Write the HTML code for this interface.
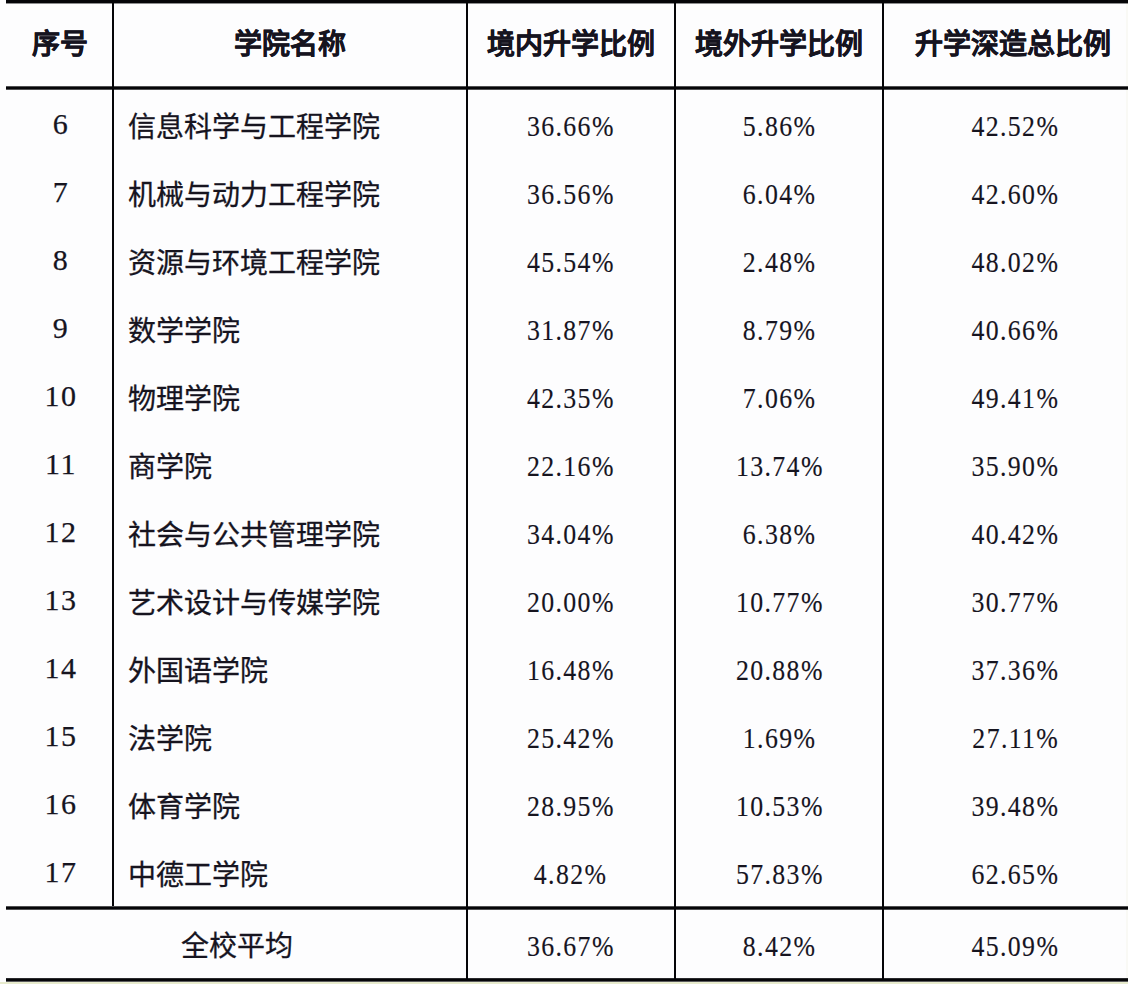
<!DOCTYPE html>
<html lang="zh-CN"><head><meta charset="utf-8"><title>升学深造比例</title><style>
html,body{margin:0;padding:0}
body{width:1128px;height:984px;overflow:hidden;background:#fdfdfe;position:relative;font-family:"Liberation Serif",serif;color:#16141f}
.ln{position:absolute;background:#050508}
.c{position:absolute;display:flex;align-items:center;justify-content:center;white-space:nowrap;font-size:28px;line-height:1}
.c span{display:block}
.h{font-weight:bold}
.h span{-webkit-text-stroke:0.3px #16141f}
.nm{justify-content:flex-start;padding-left:15px;box-sizing:border-box}
.nm span{transform:translateY(4px);-webkit-text-stroke:0.3px #16141f}
.h span{transform:translate(0px,0px)}
.tot span{transform:translateY(3px);-webkit-text-stroke:0.3px #16141f}
.n span{font-size:30px;letter-spacing:1.6px;transform:translate(0.8px,2px) scaleX(0.86);-webkit-text-stroke:0.15px #16141f}
.n3 span{transform:translate(-0.2px,2px) scaleX(0.86)}
.n5 span{transform:translate(2.3px,2px) scaleX(0.86)}
.seq span{font-size:30px;letter-spacing:1.5px;transform:translateX(1.5px);-webkit-text-stroke:0.25px #16141f}
.edge{position:absolute;left:1126px;top:0;width:2px;height:982px;background:#f6f6ee;opacity:.6}
.band{position:absolute;left:0;top:982px;width:1128px;height:2px;background:#e7ebcd}
</style></head><body>
<div class="edge"></div>
<div class="ln" style="left:6px;top:0px;width:1122px;height:1px;opacity:1"></div>
<div class="ln" style="left:6px;top:1px;width:1122px;height:1px;opacity:1"></div>
<div class="ln" style="left:6px;top:2px;width:1122px;height:1px;opacity:1"></div>
<div class="ln" style="left:6px;top:3px;width:1122px;height:1px;opacity:0.45"></div>
<div class="ln" style="left:6px;top:86px;width:1122px;height:1px;opacity:0.7"></div>
<div class="ln" style="left:6px;top:87px;width:1122px;height:1px;opacity:1"></div>
<div class="ln" style="left:6px;top:88px;width:1122px;height:1px;opacity:1"></div>
<div class="ln" style="left:6px;top:89px;width:1122px;height:1px;opacity:0.7"></div>
<div class="ln" style="left:6px;top:906px;width:1122px;height:1px;opacity:0.7"></div>
<div class="ln" style="left:6px;top:907px;width:1122px;height:1px;opacity:1"></div>
<div class="ln" style="left:6px;top:908px;width:1122px;height:1px;opacity:1"></div>
<div class="ln" style="left:6px;top:909px;width:1122px;height:1px;opacity:0.7"></div>
<div class="ln" style="left:6px;top:978px;width:1122px;height:1px;opacity:0.85"></div>
<div class="ln" style="left:6px;top:979px;width:1122px;height:1px;opacity:1"></div>
<div class="ln" style="left:6px;top:980px;width:1122px;height:1px;opacity:1"></div>
<div class="ln" style="left:6px;top:981px;width:1122px;height:1px;opacity:0.65"></div>
<div class="ln" style="left:112px;top:0;width:2px;height:906px"></div>
<div class="ln" style="left:466px;top:0;width:2px;height:979px"></div>
<div class="ln" style="left:674px;top:0;width:2px;height:979px"></div>
<div class="ln" style="left:882px;top:0;width:2px;height:979px"></div>
<div class="c h" style="left:6px;width:107px;top:3px;height:83px"><span>序号</span></div>
<div class="c h" style="left:113px;width:354px;top:3px;height:83px"><span>学院名称</span></div>
<div class="c h" style="left:467px;width:208px;top:3px;height:83px"><span>境内升学比例</span></div>
<div class="c h" style="left:675px;width:208px;top:3px;height:83px"><span>境外升学比例</span></div>
<div class="c h" style="left:883px;width:260px;top:3px;height:83px"><span>升学深造总比例</span></div>
<div class="c seq" style="left:6px;width:107px;top:90px;height:68px"><span>6</span></div>
<div class="c nm" style="left:113px;width:354px;top:90px;height:68px"><span>信息科学与工程学院</span></div>
<div class="c n n3" style="left:467px;width:208px;top:90px;height:68px"><span>36.66%</span></div>
<div class="c n" style="left:675px;width:208px;top:90px;height:68px"><span>5.86%</span></div>
<div class="c n n5" style="left:883px;width:260px;top:90px;height:68px"><span>42.52%</span></div>
<div class="c seq" style="left:6px;width:107px;top:158px;height:68px"><span>7</span></div>
<div class="c nm" style="left:113px;width:354px;top:158px;height:68px"><span>机械与动力工程学院</span></div>
<div class="c n n3" style="left:467px;width:208px;top:158px;height:68px"><span>36.56%</span></div>
<div class="c n" style="left:675px;width:208px;top:158px;height:68px"><span>6.04%</span></div>
<div class="c n n5" style="left:883px;width:260px;top:158px;height:68px"><span>42.60%</span></div>
<div class="c seq" style="left:6px;width:107px;top:226px;height:68px"><span>8</span></div>
<div class="c nm" style="left:113px;width:354px;top:226px;height:68px"><span>资源与环境工程学院</span></div>
<div class="c n n3" style="left:467px;width:208px;top:226px;height:68px"><span>45.54%</span></div>
<div class="c n" style="left:675px;width:208px;top:226px;height:68px"><span>2.48%</span></div>
<div class="c n n5" style="left:883px;width:260px;top:226px;height:68px"><span>48.02%</span></div>
<div class="c seq" style="left:6px;width:107px;top:294px;height:68px"><span>9</span></div>
<div class="c nm" style="left:113px;width:354px;top:294px;height:68px"><span>数学学院</span></div>
<div class="c n n3" style="left:467px;width:208px;top:294px;height:68px"><span>31.87%</span></div>
<div class="c n" style="left:675px;width:208px;top:294px;height:68px"><span>8.79%</span></div>
<div class="c n n5" style="left:883px;width:260px;top:294px;height:68px"><span>40.66%</span></div>
<div class="c seq" style="left:6px;width:107px;top:362px;height:68px"><span>10</span></div>
<div class="c nm" style="left:113px;width:354px;top:362px;height:68px"><span>物理学院</span></div>
<div class="c n n3" style="left:467px;width:208px;top:362px;height:68px"><span>42.35%</span></div>
<div class="c n" style="left:675px;width:208px;top:362px;height:68px"><span>7.06%</span></div>
<div class="c n n5" style="left:883px;width:260px;top:362px;height:68px"><span>49.41%</span></div>
<div class="c seq" style="left:6px;width:107px;top:430px;height:68px"><span>11</span></div>
<div class="c nm" style="left:113px;width:354px;top:430px;height:68px"><span>商学院</span></div>
<div class="c n n3" style="left:467px;width:208px;top:430px;height:68px"><span>22.16%</span></div>
<div class="c n" style="left:675px;width:208px;top:430px;height:68px"><span>13.74%</span></div>
<div class="c n n5" style="left:883px;width:260px;top:430px;height:68px"><span>35.90%</span></div>
<div class="c seq" style="left:6px;width:107px;top:498px;height:68px"><span>12</span></div>
<div class="c nm" style="left:113px;width:354px;top:498px;height:68px"><span>社会与公共管理学院</span></div>
<div class="c n n3" style="left:467px;width:208px;top:498px;height:68px"><span>34.04%</span></div>
<div class="c n" style="left:675px;width:208px;top:498px;height:68px"><span>6.38%</span></div>
<div class="c n n5" style="left:883px;width:260px;top:498px;height:68px"><span>40.42%</span></div>
<div class="c seq" style="left:6px;width:107px;top:566px;height:68px"><span>13</span></div>
<div class="c nm" style="left:113px;width:354px;top:566px;height:68px"><span>艺术设计与传媒学院</span></div>
<div class="c n n3" style="left:467px;width:208px;top:566px;height:68px"><span>20.00%</span></div>
<div class="c n" style="left:675px;width:208px;top:566px;height:68px"><span>10.77%</span></div>
<div class="c n n5" style="left:883px;width:260px;top:566px;height:68px"><span>30.77%</span></div>
<div class="c seq" style="left:6px;width:107px;top:634px;height:68px"><span>14</span></div>
<div class="c nm" style="left:113px;width:354px;top:634px;height:68px"><span>外国语学院</span></div>
<div class="c n n3" style="left:467px;width:208px;top:634px;height:68px"><span>16.48%</span></div>
<div class="c n" style="left:675px;width:208px;top:634px;height:68px"><span>20.88%</span></div>
<div class="c n n5" style="left:883px;width:260px;top:634px;height:68px"><span>37.36%</span></div>
<div class="c seq" style="left:6px;width:107px;top:702px;height:68px"><span>15</span></div>
<div class="c nm" style="left:113px;width:354px;top:702px;height:68px"><span>法学院</span></div>
<div class="c n n3" style="left:467px;width:208px;top:702px;height:68px"><span>25.42%</span></div>
<div class="c n" style="left:675px;width:208px;top:702px;height:68px"><span>1.69%</span></div>
<div class="c n n5" style="left:883px;width:260px;top:702px;height:68px"><span>27.11%</span></div>
<div class="c seq" style="left:6px;width:107px;top:770px;height:68px"><span>16</span></div>
<div class="c nm" style="left:113px;width:354px;top:770px;height:68px"><span>体育学院</span></div>
<div class="c n n3" style="left:467px;width:208px;top:770px;height:68px"><span>28.95%</span></div>
<div class="c n" style="left:675px;width:208px;top:770px;height:68px"><span>10.53%</span></div>
<div class="c n n5" style="left:883px;width:260px;top:770px;height:68px"><span>39.48%</span></div>
<div class="c seq" style="left:6px;width:107px;top:838px;height:68px"><span>17</span></div>
<div class="c nm" style="left:113px;width:354px;top:838px;height:68px"><span>中德工学院</span></div>
<div class="c n n3" style="left:467px;width:208px;top:838px;height:68px"><span>4.82%</span></div>
<div class="c n" style="left:675px;width:208px;top:838px;height:68px"><span>57.83%</span></div>
<div class="c n n5" style="left:883px;width:260px;top:838px;height:68px"><span>62.65%</span></div>
<div class="c tot" style="left:6px;width:461px;top:910px;height:68px"><span>全校平均</span></div>
<div class="c n n3" style="left:467px;width:208px;top:910px;height:68px"><span>36.67%</span></div>
<div class="c n" style="left:675px;width:208px;top:910px;height:68px"><span>8.42%</span></div>
<div class="c n n5" style="left:883px;width:260px;top:910px;height:68px"><span>45.09%</span></div>
<div class="band"></div>
</body></html>
